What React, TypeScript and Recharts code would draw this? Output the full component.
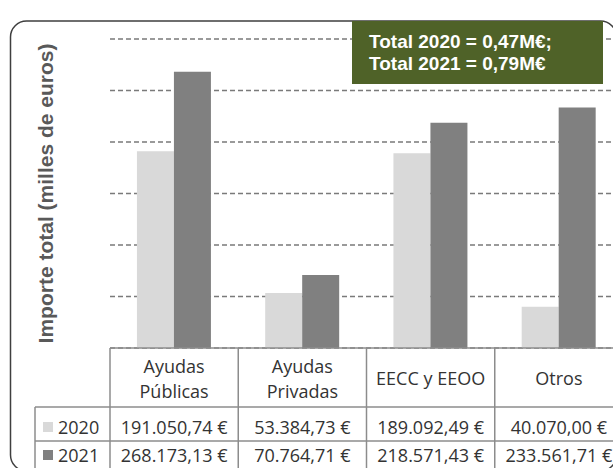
import React from 'react';
import { BarChart, Bar, XAxis, YAxis, CartesianGrid, Label } from 'recharts';

const categories = ['Ayudas Públicas', 'Ayudas Privadas', 'EECC y EEOO', 'Otros'];
const categoryLines = [['Ayudas', 'Públicas'], ['Ayudas', 'Privadas'], ['EECC y EEOO'], ['Otros']];
const values2020 = [191050.74, 53384.73, 189092.49, 40070.0];
const values2021 = [268173.13, 70764.71, 218571.43, 233561.71];
const seriesNames = ['2020', '2021'];
const yTicks = [0, 50000, 100000, 150000, 200000, 250000, 300000];
const totalLines = ['Total 2020 = 0,47M€;', 'Total 2021 = 0,79M€'];

const data = categories.map((cat, i) => ({
  cat,
  v2020: values2020[i],
  v2021: values2021[i],
}));

const CHART_W = 640;
const CHART_H = 468;
const MARGIN = { top: 39, right: 17, left: 0, bottom: 0 };
const Y_W = 110;
const X_H = 120;
const COL_W = (CHART_W - MARGIN.left - MARGIN.right - Y_W) / categories.length;

const COLOR_2020 = '#d9d9d9';
const COLOR_2021 = '#808080';
const LINE = '#8c8c8c';
const TEXT = '#333333';
const TABLE_FONT = '"Open Sans", sans-serif';

// row centres of the data table, measured from the top of the table
const ROW_2020 = 79;
const ROW_2021 = 107;

function euro(v: number) {
  const [int, dec] = v.toFixed(2).split('.');
  const grouped = int.replace(/\B(?=(\d{3})+(?!\d))/g, '.');
  return `${grouped},${dec} €`;
}

function TableTick(props: any) {
  const { x, y, index } = props;
  const left = x - COL_W / 2;
  const right = x + COL_W / 2;
  const lines = categoryLines[index] || [];
  const headerMid = y + 30;
  return (
    <g>
      {index === 0 && <line x1={left} y1={y} x2={left} y2={y + 130} stroke={LINE} strokeWidth={1.5} />}
      <line x1={right} y1={y} x2={right} y2={y + 130} stroke={LINE} strokeWidth={1.5} />
      <line x1={left} y1={y + 59} x2={right} y2={y + 59} stroke={LINE} strokeWidth={1.5} />
      <line x1={left} y1={y + 93} x2={right} y2={y + 93} stroke={LINE} strokeWidth={1.5} />
      {lines.map((t: string, k: number) => (
        <text
          key={k}
          x={x}
          y={headerMid + (k - (lines.length - 1) / 2) * 25}
          textAnchor="middle"
          dominantBaseline="central"
          fontFamily={TABLE_FONT}
          fontSize={18}
          fill={TEXT}
        >
          {t}
        </text>
      ))}
      <text x={x} y={y + ROW_2020} textAnchor="middle" dominantBaseline="central" fontFamily={TABLE_FONT} fontSize={18} fill={TEXT}>
        {euro(values2020[index])}
      </text>
      <text x={x} y={y + ROW_2021} textAnchor="middle" dominantBaseline="central" fontFamily={TABLE_FONT} fontSize={18} fill={TEXT}>
        {euro(values2021[index])}
      </text>
    </g>
  );
}

function AxisTitle(props: any) {
  const { viewBox } = props;
  const cx = 45;
  const cy = viewBox.y + viewBox.height / 2;
  return (
    <text
      x={cx}
      y={cy}
      transform={`rotate(-90, ${cx}, ${cy})`}
      textAnchor="middle"
      dominantBaseline="central"
      fontFamily='"Liberation Sans", Arial, sans-serif'
      fontWeight="bold"
      fontSize={21}
      fill="#595959"
    >
      Importe total (milles de euros)
    </text>
  );
}

export default function App() {
  const plotBottom = CHART_H - MARGIN.bottom - X_H;
  return (
    <div style={{ position: 'fixed', left: 0, top: 0, width: 613, height: 468, overflow: 'hidden', background: '#fff' }}>
      <div style={{ position: 'absolute', left: 0, top: 0 }}>
        <BarChart width={CHART_W} height={CHART_H} data={data} margin={MARGIN} barCategoryGap="21%" barGap={0}>
          <CartesianGrid vertical={false} stroke="#7a7a7a" strokeDasharray="5 3" strokeWidth={1.5} />
          <YAxis
            width={Y_W}
            domain={[0, 300000]}
            ticks={yTicks}
            tickFormatter={() => ''}
            axisLine={false}
            tickLine={false}
          >
            <Label content={<AxisTitle />} />
          </YAxis>
          <XAxis
            dataKey="cat"
            height={X_H}
            interval={0}
            tickLine={false}
            tickSize={0}
            tickMargin={0}
            axisLine={{ stroke: LINE, strokeWidth: 1.5 }}
            tick={<TableTick />}
          />
          <Bar dataKey="v2020" name={seriesNames[0]} fill={COLOR_2020} isAnimationActive={false} />
          <Bar dataKey="v2021" name={seriesNames[1]} fill={COLOR_2021} isAnimationActive={false} />
        </BarChart>
      </div>
      <svg width={613} height={468} style={{ position: 'absolute', left: 0, top: 0, pointerEvents: 'none' }}>
        <rect x={10.5} y={21} width={606} height={450} rx={16} ry={16} fill="none" stroke="#3f3f3f" strokeWidth={1.5} />
        {/* legend column of the data table */}
        <line x1={35} y1={plotBottom + 59} x2={110} y2={plotBottom + 59} stroke={LINE} strokeWidth={1.5} />
        <line x1={35} y1={plotBottom + 93} x2={110} y2={plotBottom + 93} stroke={LINE} strokeWidth={1.5} />
        <line x1={35} y1={plotBottom + 59} x2={35} y2={plotBottom + 130} stroke={LINE} strokeWidth={1.5} />
        {seriesNames.map((s, i) => (
          <g key={s}>
            <rect x={43} y={plotBottom + (i === 0 ? ROW_2020 : ROW_2021) - 5} width={10} height={10} fill={i === 0 ? COLOR_2020 : COLOR_2021} />
            <text x={58} y={plotBottom + (i === 0 ? ROW_2020 : ROW_2021)} dominantBaseline="central" fontFamily={TABLE_FONT} fontSize={18} fill={TEXT}>
              {s}
            </text>
          </g>
        ))}
        <rect x={352} y={21} width={251} height={63} fill="#4f6228" />
        {totalLines.map((t, i) => (
          <text
            key={i}
            x={369}
            y={41 + i * 22}
            dominantBaseline="central"
            fontFamily='"Liberation Sans", Arial, sans-serif'
            fontWeight="bold"
            fontSize={19}
            fill="#ffffff"
          >
            {t}
          </text>
        ))}
      </svg>
    </div>
  );
}
